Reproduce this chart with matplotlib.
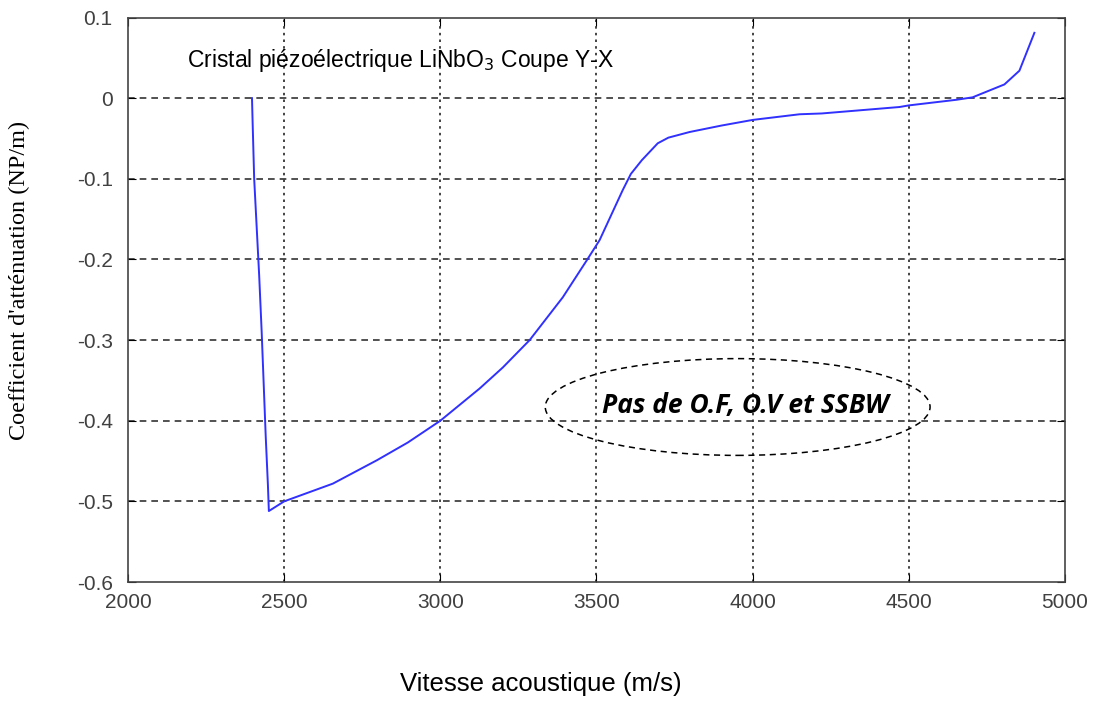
import matplotlib
matplotlib.use("Agg")
import matplotlib.pyplot as plt
from matplotlib.patches import Ellipse

# Data
velocity = [2397, 2399, 2404, 2412, 2420, 2428, 2434, 2441, 2448, 2451,
            2500, 2656, 2797, 2896, 3000, 3126, 3200, 3286, 3328, 3392, 3469,
            3510, 3584, 3610, 3645, 3696, 3730, 3798, 3900, 4000, 4150, 4221,
            4470, 4500, 4653, 4704, 4806, 4854, 4902]
attenuation = [0.0, -0.03, -0.10, -0.16, -0.22, -0.29, -0.35, -0.42, -0.48, -0.512,
               -0.500, -0.478, -0.449, -0.427, -0.400, -0.360, -0.334, -0.300, -0.279, -0.247, -0.201,
               -0.176, -0.114, -0.094, -0.077, -0.056, -0.049, -0.042, -0.034, -0.027, -0.020, -0.019,
               -0.011, -0.009, -0.002, 0.001, 0.017, 0.034, 0.081]

xticks = [2000, 2500, 3000, 3500, 4000, 4500, 5000]
yticks = [0.1, 0, -0.1, -0.2, -0.3, -0.4, -0.5, -0.6]
ytick_labels = ["0.1", "0", "-0.1", "-0.2", "-0.3", "-0.4", "-0.5", "-0.6"]

fig = plt.figure(figsize=(11.03, 7.02), dpi=100)
ax = fig.add_axes([128/1103, 1 - 582/702, (1065-128)/1103, (582-17.5)/702])

ax.plot(velocity, attenuation, color="#3030ff", lw=1.4)
ax.set_xlim(2000, 5000)
ax.set_ylim(-0.6, 0.1)
ax.set_xticks(xticks)
ax.set_yticks(yticks)
ax.set_yticklabels(ytick_labels)

for x in xticks[1:-1]:
    ax.axvline(x, color="#222222", lw=1.2, ls=(0, (1.5, 2.5)), zorder=0)
for y in yticks[1:-1]:
    ax.axhline(y, color="#333333", lw=1.2, ls=(0, (4, 3)), zorder=0)

ax.tick_params(direction="in", length=6, top=True, right=True,
               labelsize=15, labelcolor="#404040")
ax.tick_params(axis="y", pad=11)
ax.tick_params(axis="x", pad=8)
for lab in ax.get_xticklabels() + ax.get_yticklabels():
    lab.set_family("Liberation Sans")
for s in ax.spines.values():
    s.set_color("#444444")
    s.set_linewidth(1.2)

ax.text(2190, 0.047, "Cristal piézoélectrique LiNbO$_3$ Coupe Y-X",
        fontsize=16.5, family="Liberation Sans", va="center", ha="left")

ell = Ellipse((3952, -0.383), 1232, 0.120, fill=False, ls=(0, (4, 3)),
              lw=1.1, color="black")
ax.add_patch(ell)
ax.text(3975, -0.381, "Pas de O.F, O.V et SSBW", fontsize=19,
        family="Open Sans", weight="bold", style="italic",
        ha="center", va="center")

fig.text(19/1103, 1 - 280/702, "Coefficient d'atténuation (NP/m)",
         rotation=90, fontsize=17.5, family="Liberation Serif",
         ha="center", va="center")
fig.text(541/1103, 1 - 684/702, "Vitesse acoustique (m/s)",
         fontsize=18.5, family="Liberation Sans", ha="center", va="center")

fig.savefig("out.png", dpi=100)
